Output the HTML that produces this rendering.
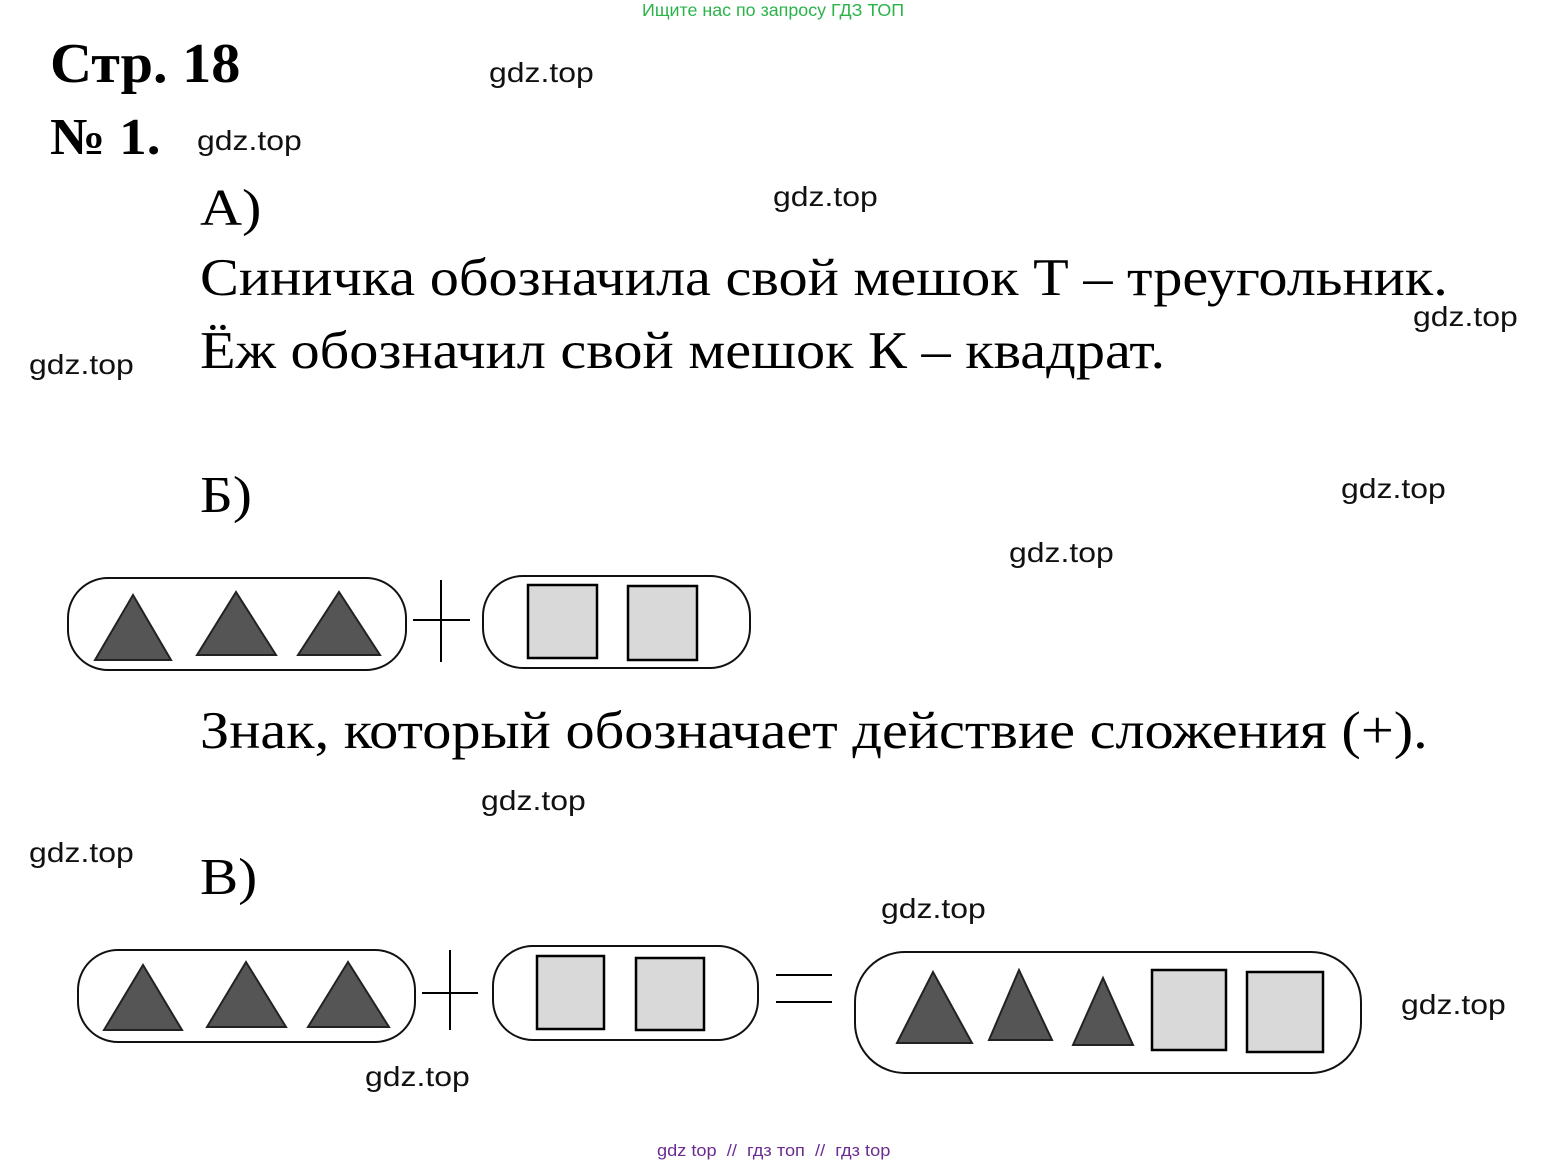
<!DOCTYPE html>
<html><head><meta charset="utf-8"><style>
body{margin:0;width:1545px;height:1166px;background:#fff;position:relative;overflow:hidden}
.t{position:absolute;white-space:nowrap;line-height:1;transform-origin:0 0}
.s{font-family:"Liberation Serif",serif;color:#000;transform:scaleX(1.1)}
.g{font-family:"Liberation Sans",sans-serif;font-size:28px;color:#111;transform:scaleX(1.14)}
svg{position:absolute;left:0;top:0}
</style></head><body>
<div class="t" style="left:642px;top:2px;font-family:'Liberation Sans',sans-serif;font-size:17.5px;color:#2bb34a;transform:scaleX(1.02)">Ищите нас по запросу ГДЗ ТОП</div>
<div class="t s" style="left:50px;top:36px;font-size:56px;font-weight:bold;transform:scaleX(1.04)">Стр. 18</div>
<div class="t s" style="left:50px;top:112px;font-size:52px;font-weight:bold;transform:scaleX(1.06)">№ 1.</div>
<div class="t s" style="left:200px;top:183px;font-size:52px;transform:scaleX(1.12)">А)</div>
<div class="t s" style="left:200px;top:252px;font-size:53px">Синичка обозначила свой мешок Т – треугольник.</div>
<div class="t s" style="left:200px;top:325px;font-size:53px">Ёж обозначил свой мешок К – квадрат.</div>
<div class="t s" style="left:200px;top:470px;font-size:52px">Б)</div>
<div class="t s" style="left:200px;top:705px;font-size:53px">Знак, который обозначает действие сложения (+).</div>
<div class="t s" style="left:200px;top:852px;font-size:52px">В)</div>
<div class="t g" style="left:489px;top:59px">gdz.top</div>
<div class="t g" style="left:197px;top:127px">gdz.top</div>
<div class="t g" style="left:773px;top:183px">gdz.top</div>
<div class="t g" style="left:1413px;top:303px">gdz.top</div>
<div class="t g" style="left:29px;top:351px">gdz.top</div>
<div class="t g" style="left:1341px;top:475px">gdz.top</div>
<div class="t g" style="left:1009px;top:539px">gdz.top</div>
<div class="t g" style="left:481px;top:787px">gdz.top</div>
<div class="t g" style="left:29px;top:839px">gdz.top</div>
<div class="t g" style="left:881px;top:895px">gdz.top</div>
<div class="t g" style="left:1401px;top:991px">gdz.top</div>
<div class="t g" style="left:365px;top:1063px">gdz.top</div>
<div class="t" style="left:657px;top:1142px;font-family:'Liberation Sans',sans-serif;font-size:17px;color:#6a2c91;transform:scaleX(1.07)">gdz top &nbsp;// &nbsp;гдз топ &nbsp;// &nbsp;гдз top</div>
<svg width="1545" height="1166">
<g fill="none" stroke="#111" stroke-width="2">
<rect x="68" y="578" width="338" height="92" rx="40"/>
<rect x="483" y="576" width="267" height="92" rx="40"/>
<rect x="78" y="950" width="337" height="92" rx="40"/>
<rect x="493" y="946" width="265" height="94" rx="40"/>
<rect x="855" y="952" width="506" height="121" rx="50"/>
</g>
<g fill="#555" stroke="#222" stroke-width="2">
<polygon points="95,660 133,595 171,660"/>
<polygon points="197,655 236,592 276,655"/>
<polygon points="298,655 339,592 380,655"/>
<polygon points="104,1030 143,965 182,1030"/>
<polygon points="207,1027 246,962 286,1027"/>
<polygon points="308,1027 348,962 389,1027"/>
<polygon points="897,1043 933,972 972,1043"/>
<polygon points="989,1040 1019,970 1052,1040"/>
<polygon points="1073,1045 1103,978 1133,1045"/>
</g>
<g fill="#d9d9d9" stroke="#000" stroke-width="2.5">
<rect x="528" y="585" width="69" height="73"/>
<rect x="628" y="586" width="69" height="74"/>
<rect x="537" y="956" width="67" height="73"/>
<rect x="636" y="958" width="68" height="72"/>
<rect x="1152" y="970" width="74" height="80"/>
<rect x="1247" y="972" width="76" height="80"/>
</g>
<g stroke="#000" stroke-width="2">
<line x1="441" y1="580" x2="441" y2="662"/>
<line x1="413" y1="620" x2="470" y2="620"/>
<line x1="450" y1="950" x2="450" y2="1030"/>
<line x1="422" y1="993" x2="478" y2="993"/>
<line x1="776" y1="975" x2="832" y2="975"/>
<line x1="776" y1="1002" x2="832" y2="1002"/>
</g>
</svg>
</body></html>
